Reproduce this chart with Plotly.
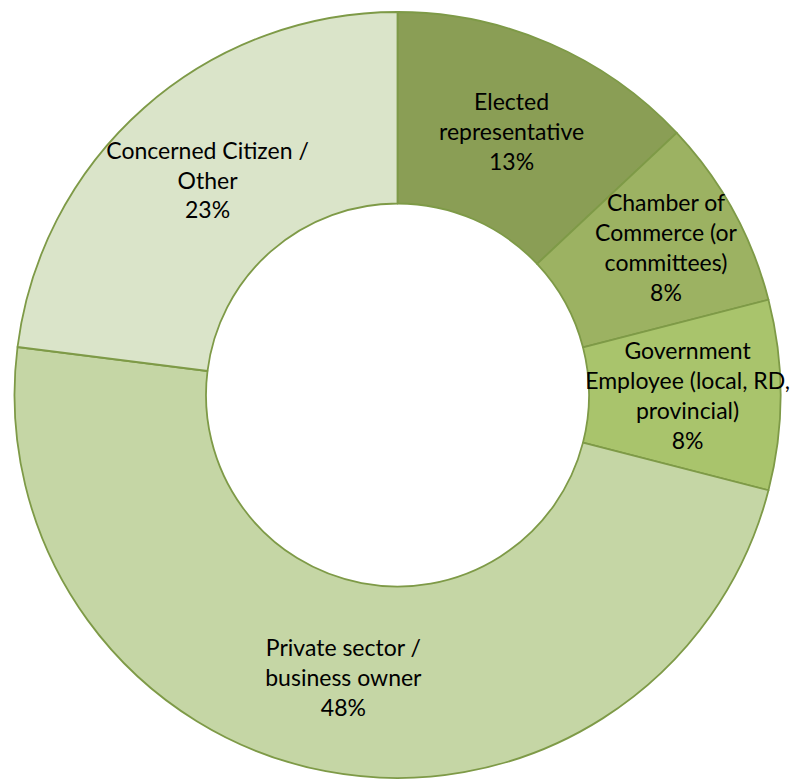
import plotly.graph_objects as go

labels = [
    "Elected<br>representative",
    "Chamber of<br>Commerce (or<br>committees)",
    "Government<br>Employee (local, RD,<br>provincial)",
    "Private sector /<br>business owner",
    "Concerned Citizen /<br>Other",
]
values = [13, 8, 8, 48, 23]
colors = ["#8A9E55", "#9CB262", "#A9C46C", "#C5D6A5", "#DAE4C9"]

fig = go.Figure(go.Pie(
    labels=labels,
    values=values,
    hole=0.5,
    sort=False,
    direction="clockwise",
    rotation=0,
    marker=dict(colors=colors, line=dict(color="#7E9A47", width=1.8)),
    texttemplate="%{label}<br>%{percent:.0%}",
    textposition="inside",
    insidetextorientation="horizontal",
    textfont=dict(family="Lato", size=23, color="#000000"),
    hoverinfo="label+percent",
))
fig.update_layout(
    width=800, height=781,
    margin=dict(l=12, r=17, t=12, b=3),
    showlegend=False,
    paper_bgcolor="white",
    uniformtext=dict(minsize=23, mode="show"),
)
fig.write_html("out.html")
